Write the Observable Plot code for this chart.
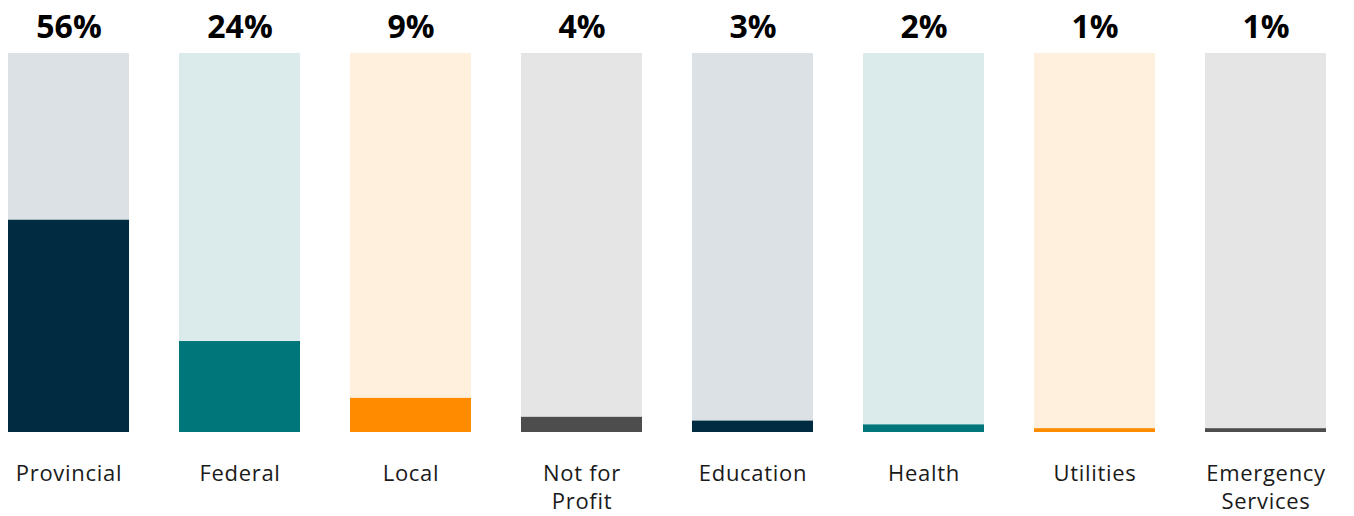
<!DOCTYPE html>
<html>
<head>
<meta charset="utf-8">
<script src="https://cdn.jsdelivr.net/npm/d3@7"></script>
<script src="https://cdn.jsdelivr.net/npm/@observablehq/plot@0.6"></script>
<style>
  html, body { margin: 0; padding: 0; background: #fff; }
  #chart svg { display: block; }
</style>
</head>
<body>
<div id="chart"></div>
<script>
const categories = ["Provincial", "Federal", "Local", "Not for Profit", "Education", "Health", "Utilities", "Emergency Services"];
const values = [56, 24, 9, 4, 3, 2, 1, 1];
const tickLabels = ["Provincial", "Federal", "Local", "Not for\nProfit", "Education", "Health", "Utilities", "Emergency\nServices"];
const valueLabels = ["56%", "24%", "9%", "4%", "3%", "2%", "1%", "1%"];
const barColors = ["#002b40", "#00767a", "#ff8c00", "#4d4d4d"];
const bgColors = ["#dbe1e4", "#dbebeb", "#ffefdd", "#e5e5e5"];

const data = categories.map((c, i) => ({
  category: c,
  value: values[i],
  full: 100,
  tick: tickLabels[i],
  label: valueLabels[i],
  color: barColors[i % 4],
  bg: bgColors[i % 4]
}));

const chart = Plot.plot({
  width: 1354,
  height: 516,
  marginTop: 53,
  marginBottom: 84,
  marginLeft: 0,
  marginRight: 21,
  style: { fontFamily: "'Open Sans', sans-serif", background: "#fff" },
  x: { domain: categories, paddingInner: 0.293, paddingOuter: 0.041, axis: null },
  y: { domain: [0, 100], axis: null },
  color: { type: "identity" },
  marks: [
    Plot.barY(data, { x: "category", y: "full", fill: "bg" }),
    Plot.barY(data, { x: "category", y: "value", fill: "color" }),
    Plot.text(data, { x: "category", y: "full", text: "label", lineAnchor: "bottom", dy: -16, fontSize: 32, fontWeight: 700, fill: "#000" }),
    Plot.text(data, { x: "category", y: () => 0, text: "tick", lineAnchor: "top", dy: 29, fontSize: 22, lineHeight: 1.26, fill: "#1a1a1a" })
  ]
});
const groups = chart.querySelectorAll("g[aria-label='text']");
if (groups.length) groups[groups.length - 1].style.letterSpacing = "0.7px";
document.getElementById("chart").appendChild(chart);
</script>
</body>
</html>
